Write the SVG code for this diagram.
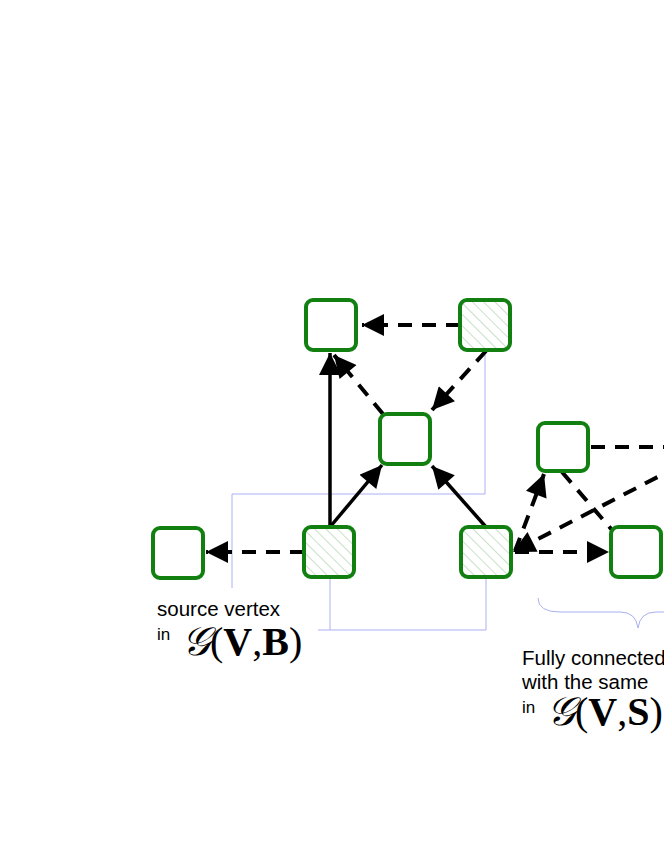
<svg xmlns="http://www.w3.org/2000/svg" width="664" height="860" viewBox="0 0 664 860">
<style>
.n{fill:#fff;stroke:#118011;stroke-width:4}
.h{fill:url(#hatch);stroke:#118011;stroke-width:4}
.s{stroke:#000;stroke-width:3.5;fill:none}
.d{stroke:#000;stroke-width:4;fill:none;stroke-dasharray:14,10}
.b{stroke:#aab0f0;stroke-width:1;fill:none}
.t{font-family:"Liberation Sans",Arial,sans-serif;font-size:20.5px}
.i{font-family:"Liberation Sans",Arial,sans-serif;font-size:17px}
.m{font-family:"Liberation Serif","Times New Roman",serif;font-size:40px}
</style>
<defs>
<pattern id="hatch" width="8" height="8" patternUnits="userSpaceOnUse" patternTransform="rotate(-45)">
<rect width="8" height="8" fill="#fff"/><line x1="0" y1="0" x2="0" y2="8" stroke="#b5d8b5" stroke-width="1.5"/>
</pattern>
<marker id="ar" viewBox="0 0 10 10" refX="10" refY="5" markerWidth="24" markerHeight="22" markerUnits="userSpaceOnUse" orient="auto-start-reverse">
<path d="M0,0L10,5L0,10z" fill="#000"/>
</marker>
</defs>
<g id="guides">
<path class="b" d="M232,588V494H485V350"/>
<path class="b" d="M318,630H486V577M330,577V630"/>
<path class="b" d="M538,598Q538,612 560,612H620Q636,612 638,628Q640,612 656,612H664"/>
</g>
<g id="connectors">
<line class="d" x1="460" y1="325" x2="362" y2="325" marker-end="url(#ar)"/>
<line class="d" x1="486" y1="351" x2="432" y2="410" marker-end="url(#ar)"/>
<line class="d" x1="383" y1="414" x2="334" y2="355" marker-end="url(#ar)"/>
<line class="s" x1="330" y1="527" x2="330" y2="353" marker-end="url(#ar)"/>
<line class="s" x1="330" y1="527" x2="382" y2="465" marker-end="url(#ar)"/>
<line class="s" x1="486" y1="527" x2="432" y2="466" marker-end="url(#ar)"/>
<line class="d" x1="304" y1="552" x2="206" y2="552" marker-end="url(#ar)"/>
<line class="d" x1="515" y1="551" x2="544" y2="474" marker-end="url(#ar)"/>
<line class="d" x1="700" y1="455" x2="513" y2="552" marker-end="url(#ar)"/>
<line class="d" x1="515" y1="552" x2="609" y2="552" marker-end="url(#ar)"/>
<line class="d" x1="562" y1="472" x2="612" y2="530"/>
<line class="d" x1="591" y1="447" x2="664" y2="447"/>
</g>
<g id="n1"><rect class="n" x="306" y="300" width="50" height="50" rx="7"/></g>
<g id="n2"><rect class="h" x="460" y="300" width="50" height="50" rx="7"/></g>
<g id="n3"><rect class="n" x="380" y="414" width="50" height="50" rx="7"/></g>
<g id="n4"><rect class="n" x="153" y="528" width="50" height="50" rx="7"/></g>
<g id="n5"><rect class="h" x="304" y="527" width="50" height="50" rx="7"/></g>
<g id="n6"><rect class="h" x="461" y="527" width="50" height="50" rx="7"/></g>
<g id="n7"><rect class="n" x="538" y="423" width="50" height="48" rx="7"/></g>
<g id="n8"><rect class="n" x="611" y="527" width="50" height="50" rx="7"/></g>
<g id="labels">
<text class="t" x="157" y="616">source vertex</text>
<text class="i" x="157" y="640">in</text>
<text class="m" x="182" y="655"><tspan font-style="italic">𝒢</tspan>(<tspan font-weight="bold">V</tspan>,<tspan font-weight="bold">B</tspan>)</text>
<text class="t" x="522" y="665">Fully connected</text>
<text class="t" x="522" y="689">with the same</text>
<text class="i" x="522" y="713">in</text>
<text class="m" x="547" y="725"><tspan font-style="italic">𝒢</tspan>(<tspan font-weight="bold">V</tspan>,<tspan font-weight="bold">S</tspan>)</text>
</g>
</svg>
